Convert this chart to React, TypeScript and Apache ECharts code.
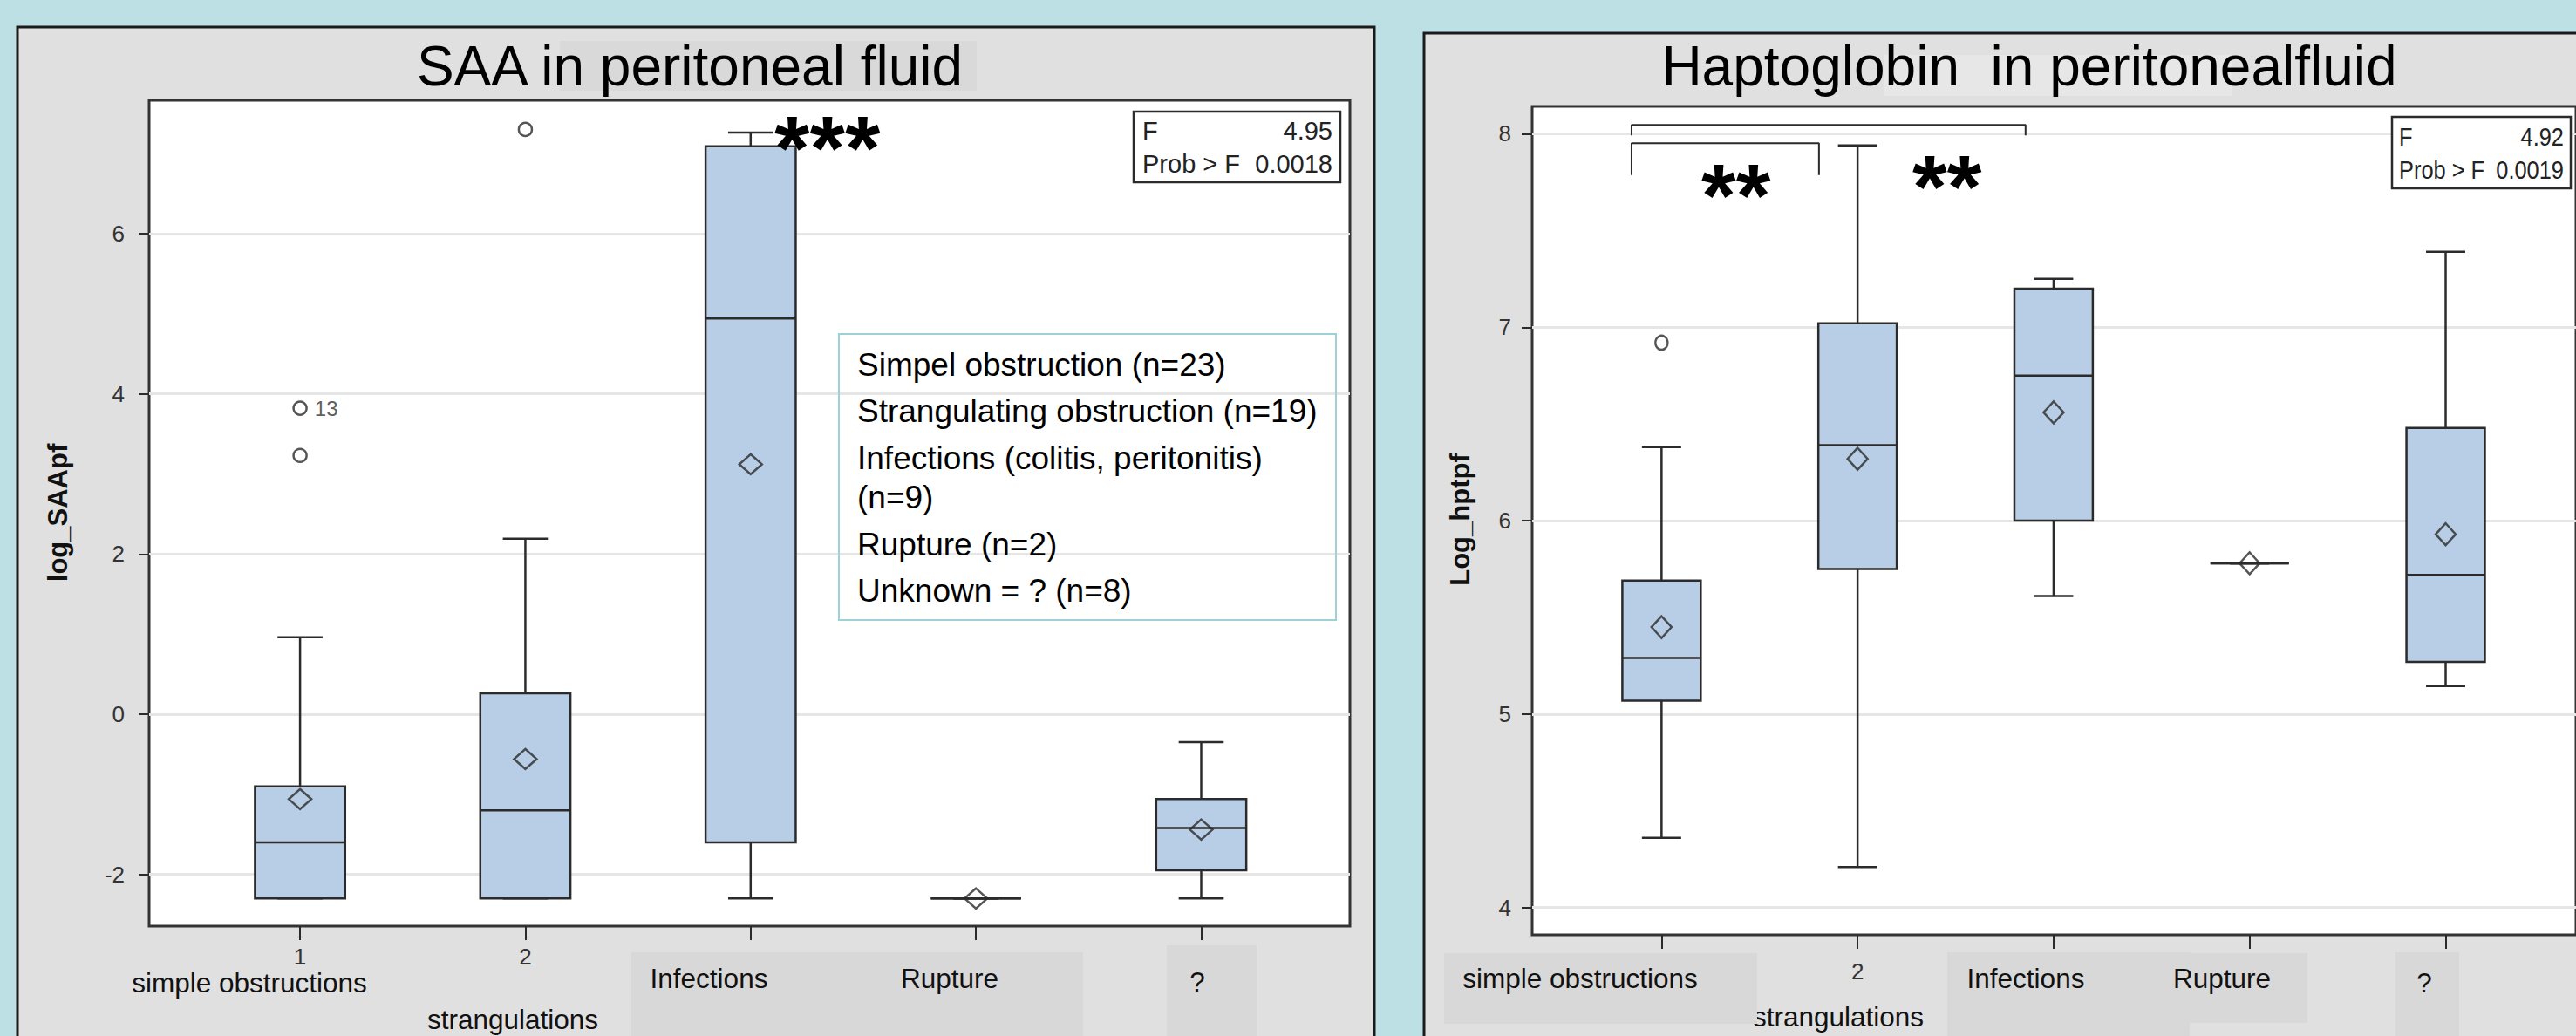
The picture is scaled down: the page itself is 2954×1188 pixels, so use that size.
import React, { useEffect, useRef } from 'react';
import * as echarts from 'echarts';

// ---------- data ----------
const categoryPositions = [1, 2, 3, 4, 5];
const categoryNames = ['simple obstructions', 'strangulations', 'Infections', 'Rupture', '?'];

// SAA in peritoneal fluid (log_SAApf)
const saaWhiskerLow = [-2.3, -2.3, -2.3, -2.3, -2.3];
const saaQ1 = [-2.3, -2.3, -1.6, -2.3, -1.95];
const saaMedian = [-1.6, -1.2, 4.94, -2.3, -1.42];
const saaQ3 = [-0.9, 0.26, 7.09, -2.3, -1.06];
const saaWhiskerHigh = [0.96, 2.19, 7.26, -2.3, -0.35];
const saaMean = [-1.06, -0.56, 3.12, -2.3, -1.44];
const saaOutliers = [[1, 3.82], [1, 3.23], [2, 7.3]];
const saaOutlierLabels = ['13', '', ''];
const saaYTicks = [-2, 0, 2, 4, 6];
const saaXTickLabels = [1, 2];
const saaFStat = ['4.95', '0.0018'];

// Haptoglobin in peritoneal fluid (Log_hptpf)
const hptWhiskerLow = [4.36, 4.21, 5.61, 5.78, 5.145];
const hptQ1 = [5.07, 5.75, 6.0, 5.78, 5.27];
const hptMedian = [5.29, 6.39, 6.75, 5.78, 5.72];
const hptQ3 = [5.69, 7.02, 7.2, 5.78, 6.48];
const hptWhiskerHigh = [6.38, 7.94, 7.25, 5.78, 7.39];
const hptMean = [5.45, 6.32, 6.56, 5.78, 5.93];
const hptOutliers = [[1, 6.92]];
const hptYTicks = [4, 5, 6, 7, 8];
const hptXTickLabels = [2];
const hptFStat = ['4.92', '0.0019'];
const bracketLow = [[0.847, 7.787], [0.847, 7.951], [1.803, 7.951], [1.803, 7.787]];
const bracketHigh = [[0.847, 7.992], [0.847, 8.046], [2.857, 8.046], [2.857, 7.992]];

const legendLines = [
  'Simpel obstruction (n=23)',
  'Strangulating obstruction (n=19)',
  'Infections (colitis, peritonitis)',
  '(n=9)',
  'Rupture (n=2)',
  'Unknown = ? (n=8)',
];

// ---------- styles ----------
const FONT = '"Liberation Sans", Arial, Helvetica, sans-serif';
const INK = '#2b2b2b';
const BOX_FILL = '#B8CEE6';
const PANEL = '#E0E0E0';
const LABEL_BOX = '#D8D8D8';

function txt(text: string, x: number, y: number, size: number, opts: any = {}) {
  const align = opts.align || 'left';
  const valign = opts.valign || 'middle';
  return {
    type: 'text',
    x,
    y,
    z: opts.z ?? 20,
    rotation: opts.rotation || 0,
    scaleX: opts.scaleX ?? 1,
    style: {
      text,
      fontSize: size,
      fontFamily: FONT,
      fontWeight: opts.bold ? 'bold' : 'normal',
      fill: opts.color || '#111',
      align,
      verticalAlign: valign,
      textAlign: align,
      textVerticalAlign: valign,
    },
  };
}

function rect(x: number, y: number, w: number, h: number, style: any, z = 1) {
  return { type: 'rect', z, shape: { x, y, width: w, height: h }, style };
}

function boxRenderer(boxFrac: number, capFrac: number) {
  return (params: any, api: any) => {
    const x = api.value(0);
    const lo = api.coord([x, api.value(1)]);
    const q1 = api.coord([x, api.value(2)]);
    const med = api.coord([x, api.value(3)]);
    const q3 = api.coord([x, api.value(4)]);
    const hi = api.coord([x, api.value(5)]);
    const bw = api.size([boxFrac, 0])[0];
    const cw = api.size([capFrac, 0])[0];
    const ls = { stroke: INK, lineWidth: 2.5 };
    return {
      type: 'group',
      children: [
        { type: 'line', shape: { x1: lo[0], y1: lo[1], x2: hi[0], y2: hi[1] }, style: ls },
        { type: 'line', shape: { x1: lo[0] - cw / 2, y1: lo[1], x2: lo[0] + cw / 2, y2: lo[1] }, style: ls },
        { type: 'line', shape: { x1: hi[0] - cw / 2, y1: hi[1], x2: hi[0] + cw / 2, y2: hi[1] }, style: ls },
        {
          type: 'rect',
          shape: { x: q1[0] - bw / 2, y: q3[1], width: bw, height: q1[1] - q3[1] },
          style: { fill: BOX_FILL, stroke: INK, lineWidth: 2.5 },
        },
        { type: 'line', shape: { x1: med[0] - bw / 2, y1: med[1], x2: med[0] + bw / 2, y2: med[1] }, style: ls },
      ],
    };
  };
}

function yAxisOf(grid: number, min: number, max: number, ticks: number[], margin: number) {
  return {
    type: 'value',
    gridIndex: grid,
    min,
    max,
    axisLine: { show: false, onZero: false },
    axisTick: { show: true, length: 12, customValues: ticks, lineStyle: { color: INK, width: 2 } },
    axisLabel: { customValues: ticks, margin, fontSize: 26, color: '#333', fontFamily: FONT },
    splitLine: { show: true, lineStyle: { color: '#E6E6E6', width: 3 } },
  };
}

function xAxisOf(grid: number, min: number, max: number, labels: number[], margin: number) {
  return {
    type: 'value',
    gridIndex: grid,
    min,
    max,
    axisLine: { show: false, onZero: false },
    splitLine: { show: false },
    axisTick: { show: true, length: 16, customValues: categoryPositions, lineStyle: { color: INK, width: 2 } },
    axisLabel: { customValues: labels, margin, fontSize: 26, color: '#333', fontFamily: FONT },
  };
}

export default function App() {
  const ref = useRef<HTMLDivElement>(null);

  useEffect(() => {
    document.body.style.margin = '0';
    const chart = echarts.init(ref.current as HTMLDivElement, null, { renderer: 'svg' });

    const saaBoxes = categoryPositions.map((x, i) => [x, saaWhiskerLow[i], saaQ1[i], saaMedian[i], saaQ3[i], saaWhiskerHigh[i]]);
    const hptBoxes = categoryPositions.map((x, i) => [x, hptWhiskerLow[i], hptQ1[i], hptMedian[i], hptQ3[i], hptWhiskerHigh[i]]);

    const graphics: any[] = [
      // panels
      rect(20, 31, 1556, 1200, { fill: PANEL, stroke: '#1a1a1a', lineWidth: 3 }, -10),
      rect(1633, 38, 1400, 1200, { fill: PANEL, stroke: '#1a1a1a', lineWidth: 3 }, -10),
      // title backgrounds
      rect(642, 47, 478, 57, { fill: '#D9D9D9' }, -5),
      rect(2160, 63, 400, 47, { fill: '#E7E7E7' }, -5),
      txt('SAA in peritoneal fluid', 791, 76, 64, { align: 'center', color: '#000' }),
      txt('Haptoglobin  in peritonealfluid', 2327, 76, 64, { align: 'center', color: '#000' }),
      // axis titles
      txt('log_SAApf', 66, 588, 31, { align: 'center', bold: true, rotation: Math.PI / 2, color: '#111' }),
      txt('Log_hptpf', 1674, 596, 31, { align: 'center', bold: true, rotation: Math.PI / 2, color: '#111' }),
      // left category labels
      rect(724, 1092, 518, 120, { fill: LABEL_BOX }, -4),
      rect(1338, 1084, 103, 120, { fill: LABEL_BOX }, -4),
      txt(categoryNames[0], 286, 1127, 31.5, { align: 'center', z: 30 }),
      txt(categoryNames[1], 588, 1169, 31.5, { align: 'center' }),
      txt(categoryNames[2], 813, 1122, 31.5, { align: 'center' }),
      txt(categoryNames[3], 1089, 1122, 31.5, { align: 'center' }),
      txt(categoryNames[4], 1373, 1126, 31.5, { align: 'center' }),
      // right category labels
      txt(categoryNames[1], 2108, 1166, 31.5, { align: 'center', z: 3 }),
      rect(1656, 1093, 359, 81, { fill: LABEL_BOX }, 5),
      rect(2233, 1092, 278, 120, { fill: LABEL_BOX }, 5),
      rect(2511, 1093, 135, 80, { fill: LABEL_BOX }, 5),
      rect(2747, 1092, 73, 120, { fill: LABEL_BOX }, 5),
      txt(categoryNames[0], 1812, 1122, 31.5, { align: 'center' }),
      txt(categoryNames[2], 2323, 1122, 31.5, { align: 'center' }),
      txt(categoryNames[3], 2548, 1122, 31.5, { align: 'center' }),
      txt(categoryNames[4], 2780, 1127, 31.5, { align: 'center' }),
      // legend box
      rect(962, 383, 570, 328, { fill: 'none', stroke: '#9CD2D7', lineWidth: 2 }, 15),
      ...legendLines.map((s, i) => txt(s, 983, [418, 471, 525, 570, 624, 677][i], 37, { color: '#000' })),
      // F boxes
      rect(1300, 128, 237, 81, { fill: '#fff', stroke: INK, lineWidth: 2.5 }, 15),
      txt('F', 1310, 150, 29, { color: '#222' }),
      txt(saaFStat[0], 1528, 150, 29, { align: 'right', color: '#222' }),
      txt('Prob > F', 1310, 188, 29, { color: '#222' }),
      txt(saaFStat[1], 1528, 188, 29, { align: 'right', color: '#222' }),
      rect(2743, 134, 205, 82, { fill: '#fff', stroke: INK, lineWidth: 2.5 }, 15),
      txt('F', 2751, 157, 29, { color: '#222', scaleX: 0.876 }),
      txt(hptFStat[0], 2940, 157, 29, { align: 'right', color: '#222', scaleX: 0.876 }),
      txt('Prob > F', 2751, 195, 29, { color: '#222', scaleX: 0.876 }),
      txt(hptFStat[1], 2940, 195, 29, { align: 'right', color: '#222', scaleX: 0.876 }),
      // significance stars
      txt('***', 888, 170, 104, { bold: true, color: '#000' }),
      txt('**', 1951, 224, 102, { bold: true, color: '#000' }),
      txt('**', 2193, 214, 102, { bold: true, color: '#000' }),
    ];

    const meanSymbol = (size: number[]) => ({
      type: 'scatter',
      symbol: 'diamond',
      symbolSize: size,
      itemStyle: { color: 'rgba(0,0,0,0)', borderColor: INK, borderWidth: 2.5 },
      z: 6,
    });

    const option: any = {
      animation: false,
      backgroundColor: '#BCE0E3',
      grid: [
        { left: 171, top: 115, width: 1377, height: 947, show: true, backgroundColor: '#fff', borderColor: '#333', borderWidth: 3 },
        { left: 1757, top: 122, width: 1203, height: 950, show: true, backgroundColor: '#fff', borderColor: '#333', borderWidth: 3 },
      ],
      xAxis: [xAxisOf(0, 0.33, 5.66, saaXTickLabels, 22), xAxisOf(1, 0.34, 5.665, hptXTickLabels, 29)],
      yAxis: [yAxisOf(0, -2.646, 7.664, saaYTicks, 28), yAxisOf(1, 3.859, 8.142, hptYTicks, 24)],
      graphic: graphics,
      series: [
        {
          type: 'custom',
          xAxisIndex: 0,
          yAxisIndex: 0,
          renderItem: boxRenderer(0.4, 0.2),
          encode: { x: 0, y: [1, 2, 3, 4, 5] },
          data: saaBoxes,
          z: 4,
        },
        { ...meanSymbol([26, 23]), xAxisIndex: 0, yAxisIndex: 0, data: categoryPositions.map((x, i) => [x, saaMean[i]]) },
        {
          type: 'scatter',
          xAxisIndex: 0,
          yAxisIndex: 0,
          symbol: 'circle',
          symbolSize: 15,
          itemStyle: { color: '#fff', borderColor: INK, borderWidth: 2.5 },
          z: 6,
          data: saaOutliers.map((p, i) => ({
            value: p,
            label: {
              show: saaOutlierLabels[i] !== '',
              formatter: saaOutlierLabels[i],
              position: 'right',
              distance: 8,
              fontSize: 24,
              color: '#333',
              fontFamily: FONT,
            },
          })),
        },
        {
          type: 'custom',
          xAxisIndex: 1,
          yAxisIndex: 1,
          renderItem: boxRenderer(0.4, 0.2),
          encode: { x: 0, y: [1, 2, 3, 4, 5] },
          data: hptBoxes,
          z: 4,
        },
        { ...meanSymbol([23, 25]), xAxisIndex: 1, yAxisIndex: 1, data: categoryPositions.map((x, i) => [x, hptMean[i]]) },
        {
          type: 'scatter',
          xAxisIndex: 1,
          yAxisIndex: 1,
          symbol: 'circle',
          symbolSize: [14, 16],
          itemStyle: { color: '#fff', borderColor: INK, borderWidth: 2.5 },
          z: 6,
          data: hptOutliers,
        },
        {
          type: 'line',
          xAxisIndex: 1,
          yAxisIndex: 1,
          symbol: 'none',
          lineStyle: { color: INK, width: 2 },
          data: bracketLow,
          z: 6,
        },
        {
          type: 'line',
          xAxisIndex: 1,
          yAxisIndex: 1,
          symbol: 'none',
          lineStyle: { color: INK, width: 2 },
          data: bracketHigh,
          z: 6,
        },
      ],
    };

    chart.setOption(option);
    return () => chart.dispose();
  }, []);

  return <div ref={ref} style={{ width: 2954, height: 1188, overflow: 'hidden' }} />;
}
